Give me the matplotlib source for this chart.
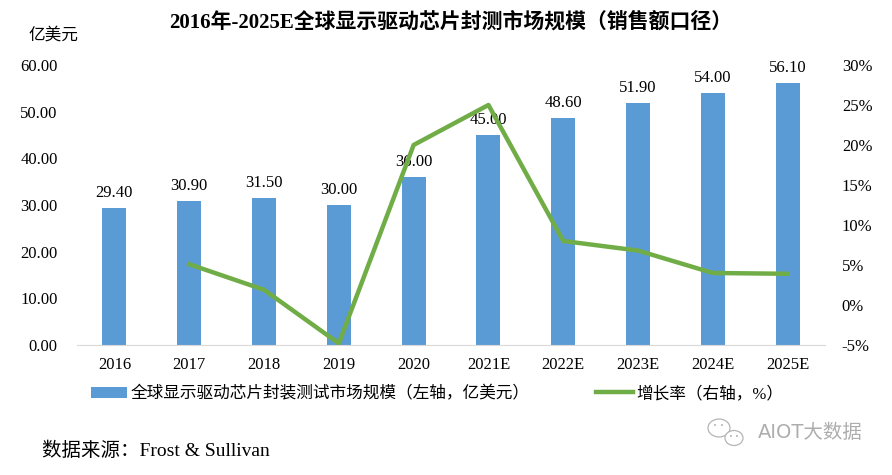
import numpy as np
import matplotlib
matplotlib.use('Agg')
import matplotlib.pyplot as plt
from matplotlib.ticker import FuncFormatter
from matplotlib.patches import Ellipse

plt.rcParams['font.family'] = ['Liberation Serif', 'Noto Sans CJK SC', 'DejaVu Sans']

years = ['2016', '2017', '2018', '2019', '2020', '2021E', '2022E', '2023E', '2024E', '2025E']
market = [29.40, 30.90, 31.50, 30.00, 36.00, 45.00, 48.60, 51.90, 54.00, 56.10]
growth = [np.nan, 5.1, 1.9, -4.8, 20.0, 25.0, 8.0, 6.8, 4.0, 3.9]

bar_color = '#5B9BD5'
line_color = '#70AD47'

W, H = 892, 475
fig = plt.figure(figsize=(W / 100, H / 100), dpi=100)
ax = fig.add_axes([0.0863, 0.2737, 0.8387, 0.5895])
x = np.arange(len(years))

bars = ax.bar(x, market, width=0.32, color=bar_color, zorder=2,
              label='全球显示驱动芯片封装测试市场规模（左轴，亿美元）')
for xi, v in zip(x, market):
    ax.annotate('%.2f' % v, (xi, v), xytext=(0, 5), textcoords='offset points',
                ha='center', va='bottom', fontsize=12, zorder=5)

ax.set_ylim(0, 60)
ax.set_yticks(np.arange(0, 61, 10))
ax.yaxis.set_major_formatter(FuncFormatter(lambda v, p: '%.2f' % v))
ax.set_xlim(-0.5, len(years) - 0.5)
ax.set_xticks(x)
ax.set_xticklabels(years)
ax.tick_params(axis='both', length=0, labelsize=12)
ax.tick_params(axis='y', pad=14)
ax.tick_params(axis='x', pad=9)
for s in ['top', 'left', 'right']:
    ax.spines[s].set_visible(False)
ax.spines['bottom'].set_color('#D9D9D9')

ax2 = ax.twinx()
ln, = ax2.plot(x, growth, color=line_color, linewidth=3.2, zorder=3, label='增长率（右轴，%）')
ax2.set_ylim(-5, 30)
ax2.set_yticks(np.arange(-5, 31, 5))
ax2.yaxis.set_major_formatter(FuncFormatter(lambda v, p: '%d%%' % v))
ax2.tick_params(axis='y', length=0, labelsize=12, pad=12)
for s in ['top', 'left', 'right', 'bottom']:
    ax2.spines[s].set_visible(False)

fig.legend(handles=[bars, ln], loc='center', bbox_to_anchor=(0.49, 0.17), ncol=2,
           frameon=False, fontsize=12, handlelength=2.2, handletextpad=0.2, columnspacing=4)

fig.text(0.505, 0.953, '2016年-2025E全球显示驱动芯片封测市场规模（销售额口径）',
         ha='center', va='center', fontsize=15, fontweight='bold')
fig.text(0.06, 0.925, '亿美元', ha='center', va='center', fontsize=12)
fig.text(0.047, 0.05, '数据来源：Frost & Sullivan', ha='left', va='center', fontsize=14)

# watermark
fig.text(863 / W, 1 - 433 / H, 'AIOT大数据', ha='right', va='center', fontsize=14,
         color='#ADADAD', family=['DejaVu Sans', 'Noto Sans CJK SC'])
for cx, cy, w, h in [(719, 428, 22, 18), (734, 438, 18, 15)]:
    fig.patches.append(Ellipse((cx / W, 1 - cy / H), w / W, h / H, transform=fig.transFigure,
                               facecolor='white', edgecolor='#B5B5B5', linewidth=0.9))
for ex, ey in [(715, 425), (722, 425), (731, 436), (737, 436)]:
    fig.patches.append(Ellipse((ex / W, 1 - ey / H), 2 / W, 2 / H, transform=fig.transFigure,
                               facecolor='#B5B5B5', edgecolor='none'))

fig.savefig('out.png', dpi=100)
